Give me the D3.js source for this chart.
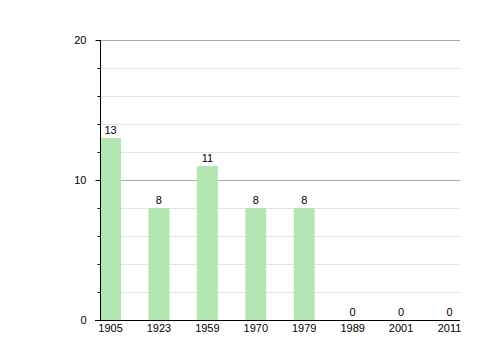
<!DOCTYPE html>
<html><head><meta charset="utf-8">
<script src="https://cdn.jsdelivr.net/npm/d3@7"></script>
<style>body{margin:0;background:#fff}text{font-family:"Liberation Sans",Arial,sans-serif;font-size:11px;fill:#000}</style>
</head><body><svg id="c" width="500" height="360"></svg>
<script>
const categories = ["1905","1923","1959","1970","1979","1989","2001","2011"];
const values = [13, 8, 11, 8, 8, 0, 0, 0];
const majorTicks = [0, 10, 20];
const minorTicks = [2,4,6,8,12,14,16,18];

const svg = d3.select("#c");
const L = 100, R = 460, T = 40, B = 320;
const x = d3.scaleBand().domain(categories).range([L, R]).paddingInner(0.566).paddingOuter(0);
const y = d3.scaleLinear().domain([0, 20]).range([B, T]);

// grid
svg.append("g").selectAll("line").data(minorTicks).join("line")
  .attr("x1", L).attr("x2", R).attr("y1", d => y(d)+0.5).attr("y2", d => y(d)+0.5)
  .attr("stroke", "#e3e3e3").attr("stroke-width", 1);
svg.append("g").selectAll("line").data(majorTicks.filter(d => d > 0)).join("line")
  .attr("x1", L).attr("x2", R).attr("y1", d => y(d)+0.5).attr("y2", d => y(d)+0.5)
  .attr("stroke", "#aaaaaa").attr("stroke-width", 1);

// bars
svg.append("g").selectAll("rect").data(values).join("rect")
  .attr("x", (d, i) => x(categories[i])).attr("width", x.bandwidth())
  .attr("y", d => y(d)).attr("height", d => B - y(d))
  .attr("fill", "#b3e5b3");

// value labels
svg.append("g").selectAll("text").data(values).join("text")
  .attr("x", (d, i) => x(categories[i]) + x.bandwidth()/2)
  .attr("y", d => y(d) - 4.5)
  .attr("text-anchor", "middle").text(d => d);

// y axis
const yMajor = d3.axisLeft(y).tickValues(majorTicks).tickSize(5).tickPadding(9).tickFormat(d3.format("d"));
const ya = svg.append("g").attr("transform", `translate(${L+0.5},0)`).call(yMajor);
ya.select(".domain").remove();
ya.selectAll("text").style("font-size", "11px").style("font-family", '"Liberation Sans",Arial,sans-serif').attr("fill", "#000");
ya.selectAll(".tick line").attr("stroke", "#000");
const yMinor = d3.axisLeft(y).tickValues(minorTicks).tickSize(3).tickFormat("");
const ym = svg.append("g").attr("transform", `translate(${L+0.5},0)`).call(yMinor);
ym.select(".domain").remove();
ym.selectAll(".tick line").attr("stroke", "#000");
svg.append("line").attr("x1", L+0.5).attr("x2", L+0.5).attr("y1", T).attr("y2", B).attr("stroke", "#000");

// x axis
const xa = svg.append("g").attr("transform", `translate(0,${B+0.5})`)
  .call(d3.axisBottom(x).tickSize(0).tickPadding(4));
xa.select(".domain").remove();
xa.selectAll("text").style("font-size", "11px").style("font-family", '"Liberation Sans",Arial,sans-serif').attr("fill", "#000");
svg.append("line").attr("x1", L-5).attr("x2", R).attr("y1", B+0.5).attr("y2", B+0.5).attr("stroke", "#000");
</script></body></html>
